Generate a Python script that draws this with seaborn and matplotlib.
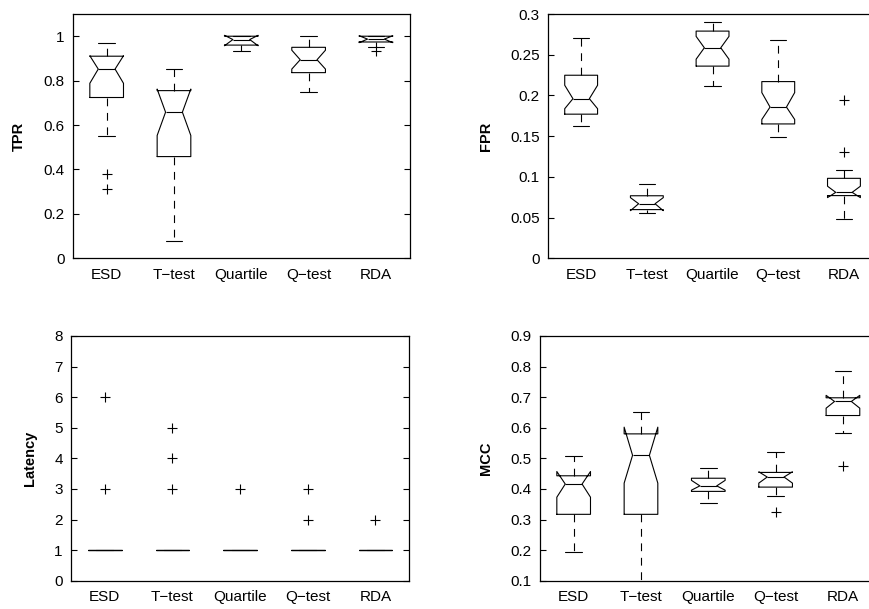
import matplotlib
matplotlib.use("Agg")
import matplotlib.pyplot as plt
import matplotlib.transforms as mtransforms
from matplotlib.ticker import FuncFormatter
import seaborn as sns

methods = ["ESD", "T\u2212test", "Quartile", "Q\u2212test", "RDA"]

# --- TPR ---
tpr_whislo = [0.55, 0.08, 0.935, 0.75, 0.95]
tpr_q1 = [0.724, 0.458, 0.96, 0.836, 0.974]
tpr_cilo = [0.788, 0.553, 0.957, 0.852, 0.971]
tpr_med = [0.852, 0.658, 0.985, 0.894, 0.987]
tpr_cihi = [0.912, 0.762, 1.004, 0.937, 1.002]
tpr_q3 = [0.91, 0.755, 1.0, 0.95, 1.0]
tpr_whishi = [0.968, 0.852, 1.0, 1.0, 1.0]
tpr_fliers = [[0.379, 0.314], [], [], [], [0.932]]

# --- FPR ---
fpr_whislo = [0.163, 0.0555, 0.2116, 0.1487, 0.048]
fpr_q1 = [0.177, 0.0598, 0.236, 0.165, 0.077]
fpr_cilo = [0.1837, 0.0585, 0.2445, 0.1705, 0.0745]
fpr_med = [0.196, 0.067, 0.2585, 0.1857, 0.081]
fpr_cihi = [0.2125, 0.0745, 0.2725, 0.2035, 0.0885]
fpr_q3 = [0.2248, 0.0768, 0.279, 0.217, 0.0982]
fpr_whishi = [0.271, 0.0908, 0.2898, 0.268, 0.1089]
fpr_fliers = [[], [], [], [], [0.195, 0.1307]]

# --- Latency ---
lat_whislo = [1, 1, 1, 1, 1]
lat_q1 = [1, 1, 1, 1, 1]
lat_cilo = [1, 1, 1, 1, 1]
lat_med = [1, 1, 1, 1, 1]
lat_cihi = [1, 1, 1, 1, 1]
lat_q3 = [1, 1, 1, 1, 1]
lat_whishi = [1, 1, 1, 1, 1]
lat_fliers = [[6, 3], [5, 4, 3], [3], [3, 2], [2]]

# --- MCC ---
mcc_whislo = [0.194, 0.05, 0.354, 0.378, 0.583]
mcc_q1 = [0.317, 0.317, 0.392, 0.406, 0.640]
mcc_cilo = [0.373, 0.419, 0.396, 0.419, 0.664]
mcc_med = [0.416, 0.510, 0.410, 0.439, 0.686]
mcc_cihi = [0.457, 0.602, 0.428, 0.456, 0.706]
mcc_q3 = [0.443, 0.580, 0.435, 0.454, 0.698]
mcc_whishi = [0.507, 0.651, 0.468, 0.521, 0.785]
mcc_fliers = [[], [], [], [0.326], [0.474]]


def make_stats(whislo, q1, cilo, med, cihi, q3, whishi, fliers):
    stats = []
    for i, m in enumerate(methods):
        stats.append(dict(label=m, whislo=whislo[i], q1=q1[i], cilo=cilo[i],
                          med=med[i], cihi=cihi[i], q3=q3[i],
                          whishi=whishi[i], fliers=fliers[i]))
    return stats


sns.set_theme(style="white")
plt.rcParams["font.family"] = ["Liberation Sans", "DejaVu Sans"]
plt.rcParams["axes.edgecolor"] = "black"
plt.rcParams["axes.linewidth"] = 0.9

fig = plt.figure(figsize=(8.7, 6.09), dpi=100)
W, H = 870.0, 609.0

# (left px, top px, width px, bottom px)
panels = [
    ("TPR", (73, 14, 336.6, 258.3), (0, 1.1), [0, 0.2, 0.4, 0.6, 0.8, 1.0], 18.7,
     make_stats(tpr_whislo, tpr_q1, tpr_cilo, tpr_med, tpr_cihi, tpr_q3, tpr_whishi, tpr_fliers)),
    ("FPR", (548.3, 14, 328.5, 258.3), (0, 0.3), [0, 0.05, 0.1, 0.15, 0.2, 0.25, 0.3], 486,
     make_stats(fpr_whislo, fpr_q1, fpr_cilo, fpr_med, fpr_cihi, fpr_q3, fpr_whishi, fpr_fliers)),
    ("Latency", (71, 336, 338.3, 580.7), (0, 8), list(range(0, 9)), 30,
     make_stats(lat_whislo, lat_q1, lat_cilo, lat_med, lat_cihi, lat_q3, lat_whishi, lat_fliers)),
    ("MCC", (540, 336, 336.6, 580.7), (0.1, 0.9), [0.1, 0.2, 0.3, 0.4, 0.5, 0.6, 0.7, 0.8, 0.9], 486,
     make_stats(mcc_whislo, mcc_q1, mcc_cilo, mcc_med, mcc_cihi, mcc_q3, mcc_whishi, mcc_fliers)),
]

line = dict(color="black", linewidth=0.8)
for name, (lx, ty, wd, by), ylim, yticks, labx, stats in panels:
    ax = fig.add_axes([lx / W, 1 - by / H, wd / W, (by - ty) / H])
    ax.bxp(stats, positions=[1, 2, 3, 4, 5], widths=0.5, shownotches=True,
           boxprops=line, medianprops=line, capprops=line,
           whiskerprops=dict(color="black", linewidth=0.8, linestyle=(0, (7, 6))),
           flierprops=dict(marker="+", markersize=7, markeredgecolor="black",
                           markeredgewidth=0.8, linestyle="none"))
    ax.set_xlim(0.5, 5.5)
    ax.set_ylim(*ylim)
    ax.set_yticks(yticks)
    ax.yaxis.set_major_formatter(FuncFormatter(lambda v, p: "%g" % round(v, 4)))
    ax.tick_params(axis="y", direction="in", length=4, width=0.8, left=True,
                   right=True, labelsize=11, pad=6, colors="black")
    ax.tick_params(axis="x", length=0, labelsize=11, pad=7, colors="black")
    for s in ax.spines.values():
        s.set_color("black")
        s.set_linewidth(0.9)
    trans = mtransforms.blended_transform_factory(fig.transFigure, ax.transAxes)
    ax.text(labx / W, 0.5, name, transform=trans, rotation=90, ha="center",
            va="center", fontsize=10.5, fontweight="bold", color="black")

fig.savefig("out.png", dpi=100)
